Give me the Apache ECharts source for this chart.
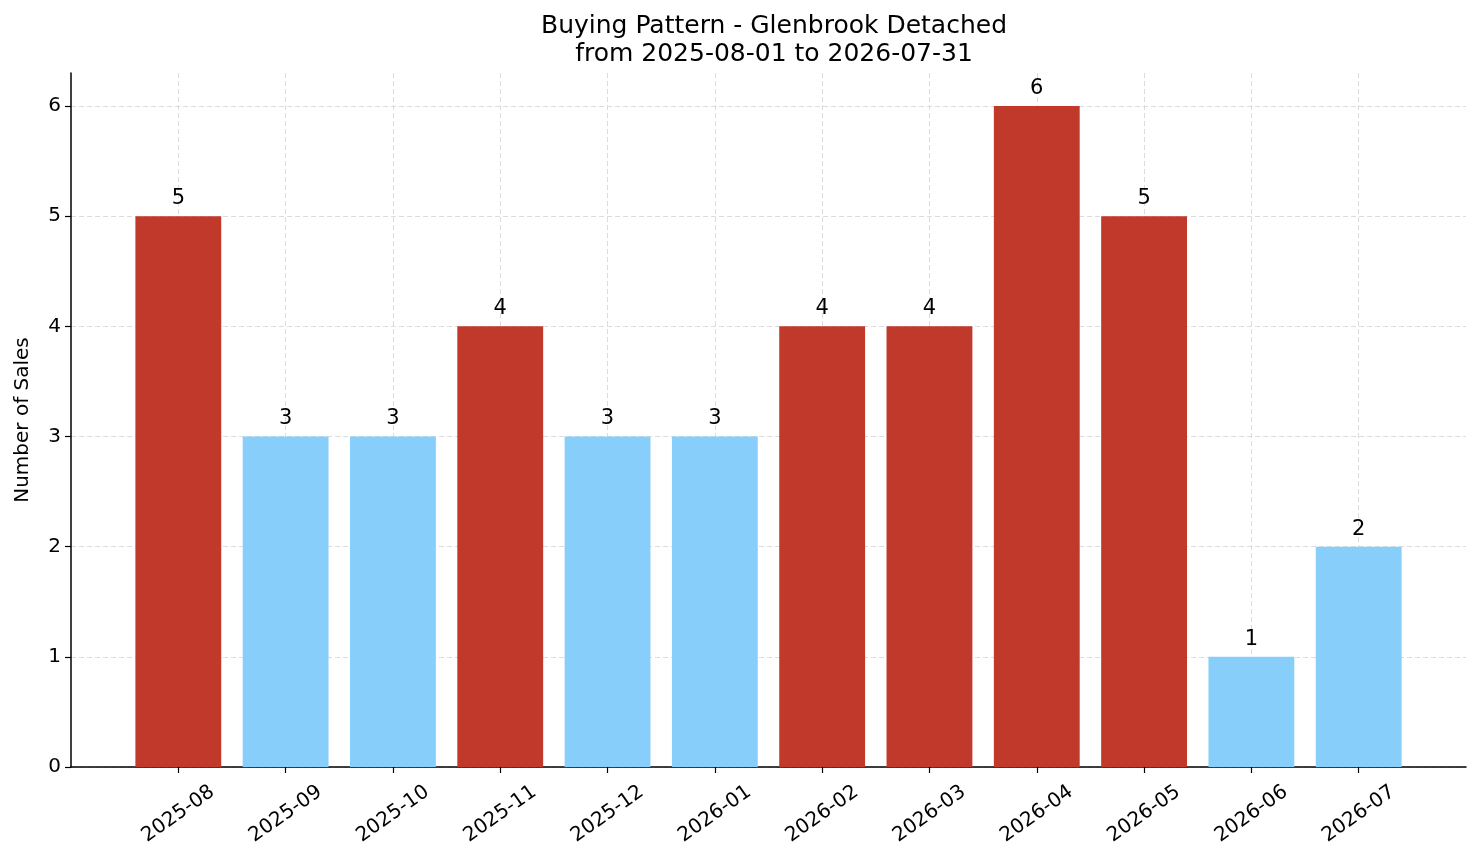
<!DOCTYPE html>
<html lang="en">
<head>
    <meta charset="UTF-8">
    <title>Buying Pattern - Glenbrook Detached</title>
    <style>
        html, body { margin: 0; padding: 0; background: #fff; }
        #main { width: 1481px; height: 863px; }
    </style>
</head>
<body>
    <div id="main"></div>
    <script src="https://cdn.jsdelivr.net/npm/echarts@6/dist/echarts.min.js"></script>
    <script>
        // months shown on the x axis, with an empty slot at each end for padding
        var months = ['2025-08', '2025-09', '2025-10', '2025-11', '2025-12', '2026-01',
                      '2026-02', '2026-03', '2026-04', '2026-05', '2026-06', '2026-07'];
        var sales = [5, 3, 3, 4, 3, 3, 4, 4, 6, 5, 1, 2];
        var yTicks = [0, 1, 2, 3, 4, 5, 6];

        var RED = '#c0392b';
        var BLUE = '#87cefa';
        var FONT = 'DejaVu Sans';

        var cats = [''].concat(months, ['']);
        var barData = [{ value: '-', itemStyle: { color: 'transparent' } }];
        sales.forEach(function (v) {
            barData.push({ value: v, itemStyle: { color: v >= 4 ? RED : BLUE } });
        });
        barData.push({ value: '-', itemStyle: { color: 'transparent' } });

        function inner(i) { return i > 0 && i < cats.length - 1; }

        // grey for the 0..6 lines, nothing for the top edge (6.3)
        var splitColors = yTicks.map(function () { return '#d3d3d3'; }).concat(['rgba(0,0,0,0)']);

        var myChart = echarts.init(document.getElementById('main'));
        var option = {
            animation: false,
            backgroundColor: '#fff',
            textStyle: { fontFamily: FONT },
            title: {
                text: 'Buying Pattern - Glenbrook Detached\nfrom 2025-08-01 to 2026-07-31',
                left: 769,
                top: 7,
                textAlign: 'center',
                textStyle: { fontFamily: FONT, fontSize: 25, fontWeight: 'normal', color: '#000', lineHeight: 28 }
            },
            grid: { left: 71, right: 15, top: 73, bottom: 96, outerBoundsMode: 'none', containLabel: false },
            xAxis: {
                type: 'category',
                data: cats,
                boundaryGap: false,
                axisLine: { lineStyle: { color: '#000', width: 1.5 } },
                axisTick: { length: 6, lineStyle: { color: '#000', width: 1.2 }, interval: function (i) { return inner(i); } },
                axisLabel: {
                    rotate: 35, align: 'center', verticalAlign: 'middle', margin: 47,
                    fontFamily: FONT, fontSize: 20, color: '#000',
                    interval: function (i) { return inner(i); }
                },
                splitLine: {
                    show: true,
                    interval: function (i) { return inner(i); },
                    lineStyle: { color: '#d3d3d3', type: [5, 3], width: 0.8 }
                }
            },
            yAxis: {
                type: 'value',
                min: 0,
                max: 6.3,
                interval: 1,
                name: 'Number of Sales',
                nameLocation: 'middle',
                nameGap: 38,
                nameTextStyle: { fontFamily: FONT, fontSize: 20, color: '#000' },
                axisLine: { show: true, lineStyle: { color: '#000', width: 1.5 } },
                axisTick: { show: true, length: 6, customValues: yTicks, lineStyle: { color: '#000', width: 1.2 } },
                axisLabel: {
                    fontFamily: FONT, fontSize: 20, color: '#000', margin: 10,
                    formatter: function (v) { return yTicks.indexOf(v) >= 0 ? String(v) : ''; }
                },
                splitLine: { lineStyle: { color: splitColors, type: [5, 3], width: 0.8 } }
            },
            series: [{
                type: 'bar',
                data: barData,
                barWidth: '80%',
                label: {
                    show: true,
                    position: 'top',
                    distance: 7,
                    fontFamily: FONT,
                    fontSize: 21,
                    color: '#000'
                }
            }]
        };
        myChart.setOption(option);
    </script>
</body>
</html>
